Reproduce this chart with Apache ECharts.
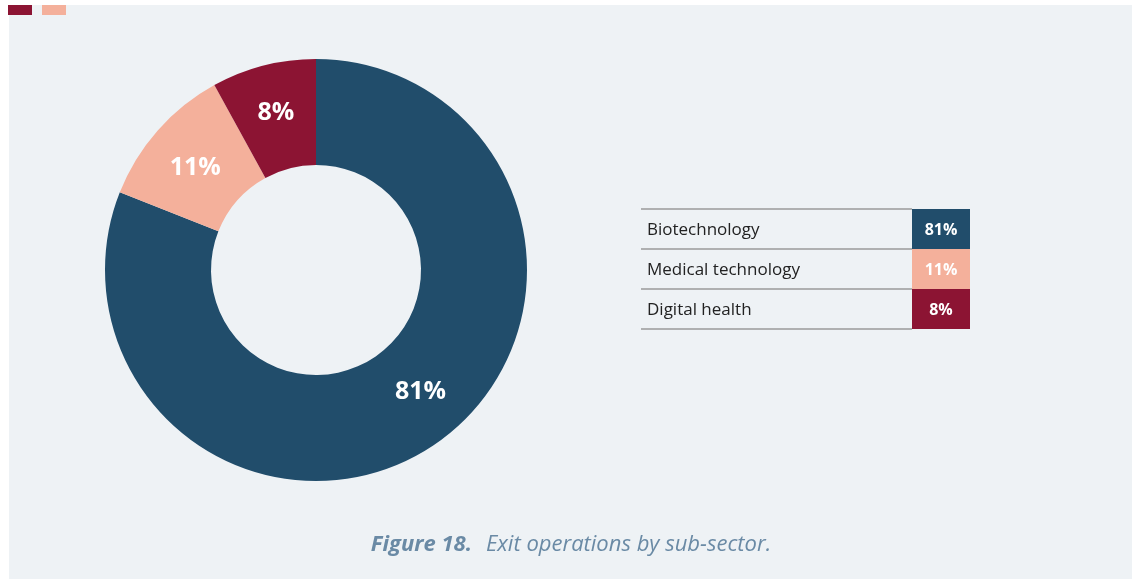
<!DOCTYPE html>
<html>
<head>
<meta charset="utf-8">
<script src="https://cdn.jsdelivr.net/npm/echarts@6/dist/echarts.min.js"></script>
<style>
  html, body { margin: 0; padding: 0; background: #ffffff; }
  #chart { width: 1132px; height: 579px; }
</style>
</head>
<body>
<div id="chart"></div>
<script>
// Exit operations by sub-sector (share of exits, %)
const categories = ['Biotechnology', 'Medical technology', 'Digital health'];
const shares = [81, 11, 8];
const sliceColors = ['#214d6b', '#f4b09b', '#8c1433'];
const caption = { bold: 'Figure 18.', rest: 'Exit operations by sub-sector.' };

const FONT = '"Open Sans", "Noto Sans", sans-serif';

// Side table: one row per category, with a coloured value cell
const tableLeft = 641, tableRight = 970, cellLeft = 912, tableTop = 209, rowH = 40;
const tableGraphics = [];
categories.forEach((name, i) => {
  const y = tableTop + i * rowH;
  tableGraphics.push({
    type: 'rect',
    shape: { x: cellLeft, y: y, width: tableRight - cellLeft, height: rowH },
    style: { fill: sliceColors[i] },
    z: 10
  });
  tableGraphics.push({
    type: 'text',
    x: tableLeft + 6, y: y + rowH / 2 + 1,
    style: { text: name, fill: '#222222', font: '400 17px ' + FONT, textVerticalAlign: 'middle' },
    z: 11
  });
  tableGraphics.push({
    type: 'text',
    x: (cellLeft + tableRight) / 2, y: y + rowH / 2 + 1,
    style: { text: shares[i] + '%', fill: '#ffffff', font: '700 16px ' + FONT, textAlign: 'center', textVerticalAlign: 'middle' },
    z: 11
  });
});
for (let i = 0; i <= categories.length; i++) {
  const y = tableTop + i * rowH;
  tableGraphics.push({
    type: 'line',
    shape: { x1: tableLeft, y1: y, x2: cellLeft, y2: y },
    style: { stroke: '#9a9a9a', lineWidth: 1.5 },
    z: 9
  });
}

// Nudges for the in-slice value labels
const labelOffsets = [[14, -11], [0, 4], [0, -1]];

const chart = echarts.init(document.getElementById('chart'), null, { renderer: 'canvas' });
chart.setOption({
  backgroundColor: '#ffffff',
  animation: false,
  graphic: [
    { type: 'rect', shape: { x: 9, y: 5, width: 1123, height: 574 }, style: { fill: '#eef2f5' }, z: -10 },
    { type: 'rect', shape: { x: 8, y: 5, width: 24, height: 10 }, style: { fill: sliceColors[2] }, z: -5 },
    { type: 'rect', shape: { x: 42, y: 5, width: 24, height: 10 }, style: { fill: sliceColors[1] }, z: -5 },
    {
      type: 'text', x: 571, y: 545,
      style: {
        text: '{b|' + caption.bold + '}{i|' + caption.rest + '}',
        textAlign: 'center', textVerticalAlign: 'middle',
        rich: {
          b: { font: 'italic 700 22px ' + FONT, fill: '#6a8aa5', padding: [0, 14, 0, 0] },
          i: { font: 'italic 400 22px ' + FONT, fill: '#6a8aa5' }
        }
      }
    },
    ...tableGraphics
  ],
  series: [{
    type: 'pie',
    center: [316, 270],
    radius: [105, 211],
    startAngle: 90,
    clockwise: true,
    avoidLabelOverlap: false,
    label: {
      show: true,
      position: 'inside',
      formatter: '{c}%',
      color: '#ffffff',
      fontFamily: FONT,
      fontWeight: 700,
      fontSize: 25
    },
    labelLine: { show: false },
    itemStyle: { borderWidth: 0 },
    emphasis: { disabled: true },
    data: categories.map((name, i) => ({
      name, value: shares[i],
      itemStyle: { color: sliceColors[i] },
      label: { offset: labelOffsets[i] }
    }))
  }]
});
</script>
</body>
</html>
